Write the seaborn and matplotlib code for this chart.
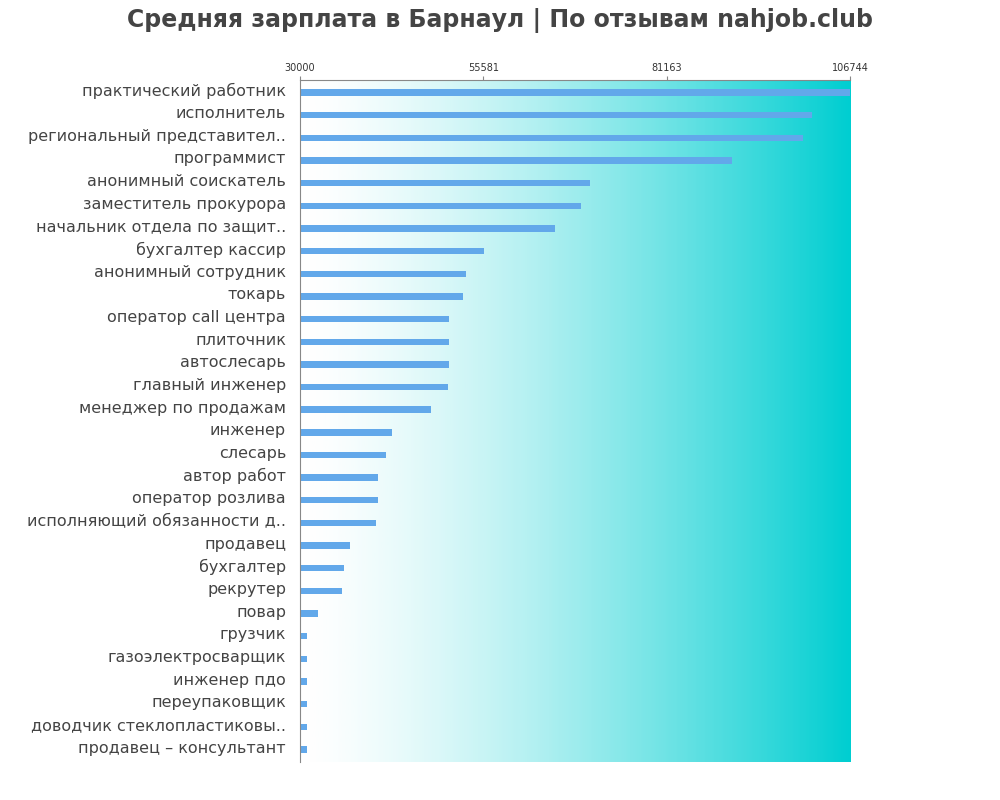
import numpy as np
import pandas as pd
import matplotlib
matplotlib.use('Agg')
import matplotlib.pyplot as plt
import matplotlib.transforms as mtransforms
import seaborn as sns
from matplotlib.colors import LinearSegmentedColormap

jobs = ['практический работник', 'исполнитель', 'региональный представител..', 'программист',
        'анонимный соискатель', 'заместитель прокурора', 'начальник отдела по защит..',
        'бухгалтер кассир', 'анонимный сотрудник', 'токарь', 'оператор call центра',
        'плиточник', 'автослесарь', 'главный инженер', 'менеджер по продажам', 'инженер',
        'слесарь', 'автор работ', 'оператор розлива', 'исполняющий обязанности д..',
        'продавец', 'бухгалтер', 'рекрутер', 'повар', 'грузчик', 'газоэлектросварщик',
        'инженер пдо', 'переупаковщик', 'доводчик стеклопластиковы..', 'продавец – консультант']
salary = [106744, 101400, 100200, 90300, 70500, 69200, 65600, 55700, 53200, 52700, 50800,
          50800, 50800, 50650, 48300, 42850, 42000, 40900, 40900, 40600, 37000, 36150,
          35850, 32500, 31000, 31000, 31000, 31000, 31000, 31000]
ticks = [30000, 55581, 81163, 106744]

df = pd.DataFrame({'job': jobs, 'salary': salary})

fig = plt.figure(figsize=(10, 8), dpi=100)
ax = fig.add_axes([0.3, 0.0475, 0.55, 0.8525])

n = len(jobs)
cmap = LinearSegmentedColormap.from_list('bg', ['#ffffff', '#00ced1'])
grad = np.linspace(0, 1, 256).reshape(1, -1) ** 1.4
ax.imshow(grad, aspect='auto', cmap=cmap, extent=[30000, 106744, n - 0.45, -0.55], zorder=0)

sns.barplot(data=df, y='job', x='salary', orient='h', color='#62a8ea', width=0.28,
            saturation=1, ax=ax, zorder=2)

ax.set_xlim(30000, 106744)
ax.set_ylim(n - 0.45, -0.55)
ax.xaxis.tick_top()
ax.set_xticks(ticks)
ax.set_xticklabels([str(t) for t in ticks], fontsize=7, color='#333333')
ax.tick_params(axis='x', length=3, pad=2, color='#888888')
ax.tick_params(axis='y', length=0, labelsize=11.5, labelcolor='#444444', pad=10)
# nudge labels a little above the bars
shift = mtransforms.ScaledTranslation(0, 3 / 100, fig.dpi_scale_trans)
for lbl in ax.get_yticklabels():
    lbl.set_transform(lbl.get_transform() + shift)
ax.set_xlabel('')
ax.set_ylabel('')
for s in ['right', 'bottom']:
    ax.spines[s].set_visible(False)
ax.spines['left'].set_color('#888888')
ax.spines['top'].set_color('#888888')

fig.suptitle('Средняя зарплата в Барнаул | По отзывам nahjob.club', x=0.5, y=0.99,
             fontsize=17, fontweight='bold', color='#444444')
fig.savefig('out.png')
